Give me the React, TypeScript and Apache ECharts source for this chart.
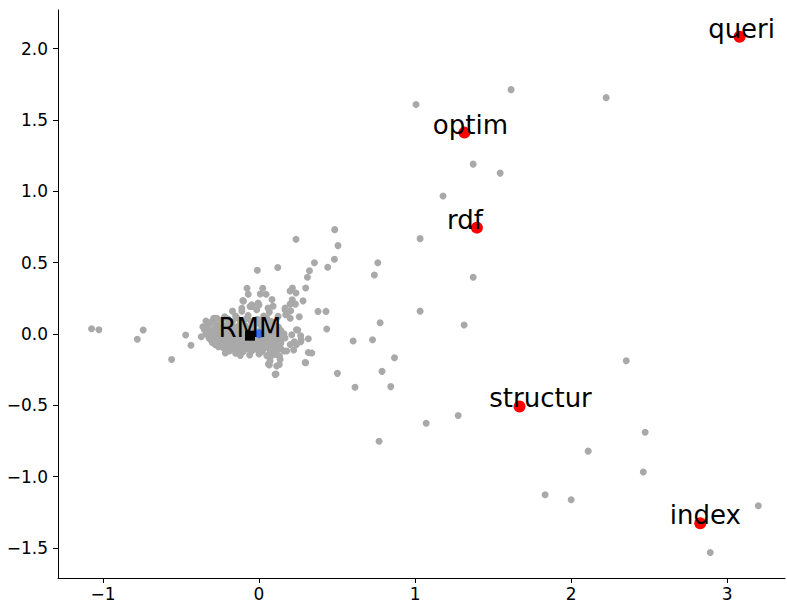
import React, { useEffect, useRef } from "react";
import * as echarts from "echarts";

// Gray background terms [x, y]
const grayFar: [number, number][] = [
  [1.615, 1.712], [1.006, 1.608], [2.224, 1.656], [1.372, 1.19], [1.545, 1.127],
  [1.179, 0.967], [1.032, 0.668], [1.372, 0.397], [1.032, 0.16], [1.314, 0.063],
  [2.353, -0.188], [1.071, -0.626], [1.276, -0.571], [2.474, -0.689], [2.109, -0.821],
  [2.462, -0.967], [1.833, -1.127], [2.0, -1.162], [3.199, -1.204], [2.891, -1.531],
  [0.769, -0.752],
];

const grayMid: [number, number][] = [
  [0.434, 0.035], [0.776, 0.079], [0.316, -0.033], [0.603, -0.049], [0.727, -0.04],
  [0.338, -0.134], [0.299, -0.202], [0.868, -0.167], [0.502, -0.276], [0.788, -0.262],
  [0.615, -0.374], [0.844, -0.369],
  [0.237, 0.663], [0.485, 0.731], [0.506, 0.619], [0.483, 0.524], [0.355, 0.499],
  [0.44, 0.468], [0.761, 0.499], [0.739, 0.413], [0.323, 0.443], [0.31, 0.397],
  [0.299, 0.322], [0.214, 0.322], [0.199, 0.301], [0.237, 0.287], [0.282, 0.232],
  [0.213, 0.239], [0.199, 0.209], [0.233, 0.209],
  [0.378, 0.158], [0.429, 0.158], [0.258, 0.12], [0.248, 0.028], [0.267, -0.012],
  [0.226, -0.054], [0.267, -0.054], [0.222, -0.113],
  [-0.011, 0.447], [0.12, 0.466], [-0.077, 0.32], [0.024, 0.32], [-0.069, 0.278],
  [0.008, 0.28], [0.045, 0.278], [0.083, 0.241], [-0.104, 0.235], [-0.043, 0.193],
  [0.0, 0.204], [0.066, 0.153], [0.167, 0.169], [0.203, 0.162], [0.171, 0.134],
  [-1.073, 0.037], [-1.026, 0.03], [-0.742, 0.028], [-0.78, -0.037], [-0.56, -0.179],
  [-0.47, -0.007], [-0.436, -0.079], [-0.216, -0.134], [0.109, -0.281], [0.066, -0.218],
  [0.13, -0.214], [0.071, -0.19],
];

const grayFringe: [number, number][] = [
  [-0.10, 0.23], [-0.11, 0.16], [-0.17, 0.16], [-0.28, 0.11], [-0.34, 0.09],
  [-0.047, 0.204], [-0.006, 0.216], [-0.015, 0.169], [0.058, 0.181], [0.09, 0.195],
  [0.167, 0.181], [0.178, 0.146], [0.122, 0.123], [0.2, 0.11], [0.24, 0.03],
  [0.21, -0.005], [0.27, -0.04], [0.167, -0.028], [0.135, -0.074], [0.2, -0.074],
  [0.24, -0.074], [0.177, -0.12], [0.113, -0.144], [0.07, -0.167], [0.135, -0.179],
  [0.06, -0.21], [0.113, -0.225], [0.103, -0.283], [0.295, -0.2], [0.316, -0.13],
  [0.006, -0.132], [-0.047, -0.12], [-0.186, -0.109], [-0.229, -0.097], [-0.28, 0.042],
  [-0.29, 0.11], [-0.11, 0.18], [-0.058, 0.193], [-0.22, 0.12], [-0.15, 0.125],
  [-0.07, 0.13], [0.03, 0.125], [-0.37, -0.02], [-0.36, 0.05],
];

const grayCore: [number, number][] = [
  [-0.30, 0.09], [-0.24, 0.095], [-0.17, 0.085], [-0.12, 0.092], [-0.05, 0.088], [0.02, 0.094], [0.08, 0.087],
  [-0.27, 0.11], [-0.20, 0.105], [-0.14, 0.112], [-0.08, 0.108], [-0.01, 0.103], [0.05, 0.11],
  [-0.33, 0.06], [-0.27, 0.062], [-0.22, 0.057], [-0.18, 0.064], [-0.13, 0.058], [-0.09, 0.061], [-0.04, 0.056], [0.01, 0.063], [0.05, 0.059], [0.10, 0.061],
  [-0.31, 0.075], [-0.245, 0.045], [-0.195, 0.078], [-0.155, 0.045], [-0.105, 0.076], [-0.06, 0.044], [-0.015, 0.077], [0.035, 0.045], [0.075, 0.074], [0.125, 0.047],
  [-0.35, 0.03], [-0.30, 0.028], [-0.26, 0.034], [-0.21, 0.029], [-0.16, 0.032], [-0.12, 0.027], [-0.08, 0.033], [-0.03, 0.031], [0.02, 0.026], [0.06, 0.035], [0.11, 0.03], [0.14, 0.024],
  [-0.325, 0.015], [-0.275, 0.017], [-0.23, 0.013], [-0.185, 0.018], [-0.135, 0.014], [-0.095, 0.016], [-0.045, 0.012], [0.005, 0.018], [0.045, 0.013], [0.09, 0.016], [0.135, 0.011],
  [-0.34, 0.0], [-0.29, 0.004], [-0.25, -0.003], [-0.20, 0.002], [-0.15, -0.004], [-0.11, 0.003], [-0.07, -0.002], [-0.02, 0.005], [0.03, -0.001], [0.07, 0.003], [0.12, -0.005], [0.16, 0.002],
  [-0.315, -0.015], [-0.265, -0.013], [-0.215, -0.018], [-0.165, -0.014], [-0.125, -0.016], [-0.085, -0.012], [-0.04, -0.017], [0.015, -0.014], [0.055, -0.016], [0.1, -0.013], [0.145, -0.017],
  [-0.32, -0.03], [-0.28, -0.027], [-0.23, -0.033], [-0.18, -0.028], [-0.14, -0.032], [-0.10, -0.026], [-0.05, -0.031], [0.0, -0.029], [0.04, -0.034], [0.09, -0.027], [0.13, -0.031],
  [-0.305, -0.045], [-0.255, -0.043], [-0.2, -0.047], [-0.15, -0.044], [-0.11, -0.046], [-0.065, -0.042], [-0.02, -0.047], [0.025, -0.044], [0.07, -0.046], [0.115, -0.043],
  [-0.30, -0.06], [-0.25, -0.057], [-0.21, -0.063], [-0.16, -0.058], [-0.12, -0.061], [-0.08, -0.056], [-0.03, -0.062], [0.01, -0.059], [0.05, -0.064], [0.10, -0.057], [0.14, -0.062],
  [-0.28, -0.075], [-0.235, -0.073], [-0.19, -0.077], [-0.145, -0.074], [-0.105, -0.076], [-0.06, -0.072], [-0.015, -0.077], [0.025, -0.074], [0.065, -0.076], [0.11, -0.073],
  [-0.26, -0.09], [-0.21, -0.087], [-0.17, -0.093], [-0.13, -0.088], [-0.09, -0.092], [-0.04, -0.086], [0.0, -0.094], [0.04, -0.089], [0.08, -0.091], [0.12, -0.087],
  [-0.2, -0.105], [-0.155, -0.103], [-0.11, -0.107], [-0.07, -0.104], [-0.02, -0.106], [0.03, -0.102], [0.09, -0.106], [0.14, -0.104],
  [-0.19, -0.12], [-0.14, -0.117], [-0.10, -0.123], [-0.05, -0.118], [0.02, -0.122], [0.07, -0.116], [0.11, -0.124], [0.16, -0.119],
  [-0.12, -0.15], [-0.06, -0.148], [0.05, -0.152], [0.09, -0.146], [0.13, -0.155], [-0.15, -0.135], [0.0, -0.14],
];

// Highlighted terms
const highlightNames = ["queri", "optim", "rdf", "structur", "index"];
const highlightX = [3.079, 1.316, 1.396, 1.669, 2.827];
const highlightY = [2.083, 1.411, 0.745, -0.508, -1.327];

// Query point and the RMM centroid
const bluePoint: [number, number] = [0.002, 0.002];
const rmmName = "RMM";
const rmmPoint: [number, number] = [-0.058, -0.012];

const xTicks = [-1, 0, 1, 2, 3];
const yTicks = [-1.5, -1.0, -0.5, 0.0, 0.5, 1.0, 1.5, 2.0];

// label horizontal shifts (px) for the annotations
const labelDx = [2, 6, -12, 21, 5];

const FONT = "DejaVu Sans";
const fmtMinus = (s: string) => s.replace("-", "\u2212");

export default function App() {
  const ref = useRef<HTMLDivElement>(null);
  useEffect(() => {
    if (!ref.current) return;
    const chart = echarts.init(ref.current, undefined, { renderer: "svg" });
    const gray = [...grayFar, ...grayMid, ...grayFringe, ...grayCore];
    const labelBase = {
      show: true,
      position: "inside" as const,
      fontFamily: FONT,
      fontSize: 26,
      color: "#000",
      opacity: 1,
      textBorderWidth: 0,
      textBorderColor: "transparent",
      align: "center" as const,
      verticalAlign: "middle" as const,
    };
    chart.setOption({
      animation: false,
      backgroundColor: "#fff",
      grid: { left: 58, right: 2, top: 10, bottom: 20, containLabel: false },
      xAxis: {
        type: "value",
        min: -1.288,
        max: 3.37,
        axisLine: { show: true, onZero: false, lineStyle: { color: "#000", width: 1 } },
        axisTick: { show: true, length: 5, customValues: xTicks, lineStyle: { color: "#000" } },
        axisLabel: {
          customValues: xTicks,
          fontFamily: FONT,
          fontSize: 17,
          color: "#000",
          margin: 7,
          formatter: (v: number) => fmtMinus(String(Math.round(v))),
        },
        splitLine: { show: false },
      },
      yAxis: {
        type: "value",
        min: -1.71,
        max: 2.27,
        axisLine: { show: true, onZero: false, lineStyle: { color: "#000", width: 1 } },
        axisTick: { show: true, length: 5, customValues: yTicks, lineStyle: { color: "#000" } },
        axisLabel: {
          customValues: yTicks,
          fontFamily: FONT,
          fontSize: 17,
          color: "#000",
          margin: 10,
          formatter: (v: number) => fmtMinus(v.toFixed(1)),
        },
        splitLine: { show: false },
      },
      series: [
        {
          type: "scatter",
          data: gray,
          symbolSize: 7,
          itemStyle: { color: "#a9a9a9", opacity: 1 },
          z: 1,
        },
        {
          type: "scatter",
          data: [bluePoint],
          symbolSize: 9,
          itemStyle: { color: "#4169e1", opacity: 1 },
          z: 2,
        },
        {
          type: "scatter",
          data: [{ value: rmmPoint, name: rmmName }],
          symbol: "rect",
          symbolSize: 10,
          itemStyle: { color: "#000", opacity: 1 },
          label: { ...labelBase, formatter: "{b}", offset: [0, -8] },
          z: 3,
        },
        {
          type: "scatter",
          data: highlightNames.map((n, i) => ({
            name: n,
            value: [highlightX[i], highlightY[i]],
            label: { offset: [labelDx[i], -8] },
          })),
          symbolSize: 12,
          itemStyle: { color: "#f00", opacity: 1 },
          label: { ...labelBase, formatter: "{b}" },
          z: 4,
        },
      ],
    });
    return () => chart.dispose();
  }, []);
  return (
    <div
      ref={ref}
      style={{ position: "fixed", left: 0, top: 0, width: 787, height: 602, background: "#fff" }}
    />
  );
}
